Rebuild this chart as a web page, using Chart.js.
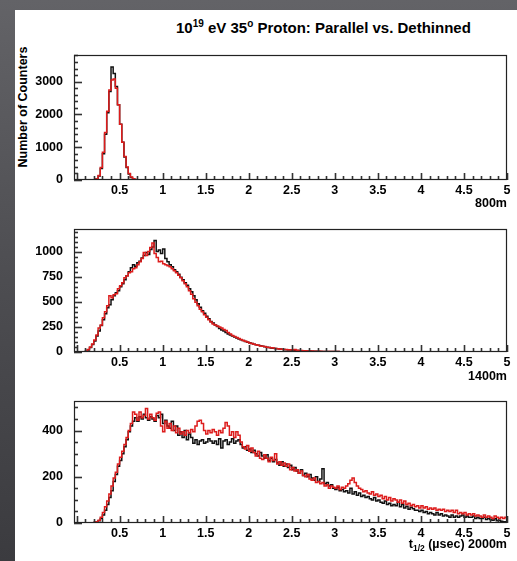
<!DOCTYPE html>
<html>
<head>
<meta charset="utf-8">
<script src="https://cdn.jsdelivr.net/npm/chart.js@4.4.1/dist/chart.umd.min.js"></script>
<style>
  html, body { margin: 0; padding: 0; }
  body {
    width: 517px; height: 561px; overflow: hidden; position: relative;
    background: linear-gradient(180deg, #636367 0%, #4d4d51 50%, #3b3b3f 100%);
    font-family: 'Liberation Sans', Arial, sans-serif; font-weight: bold; color: #000;
  }
  #sheet { position: absolute; left: 15px; top: 10px; right: 0; bottom: 0; background: #fff; }
  canvas { position: absolute; left: 0; }
  .txt { position: absolute; white-space: nowrap; }
  .title { left: 176px; top: 19px; font-size: 15px; line-height: 18px; }
  .title .sup { font-size: 10px; position: relative; top: -6px; }
  .ytitle { left: -47px; top: 100px; width: 140px; height: 14px; font-size: 12.5px; line-height: 14px;
            text-align: center; transform: rotate(-90deg); }
  .lbl { right: 10px; font-size: 12.5px; line-height: 14px; }
  .lbl .sub { font-size: 8.5px; position: relative; top: 3px; }
</style>
</head>
<body>
<div id="sheet"></div>
<div class="txt title">10<span class="sup">19</span> eV 35<span class="sup">o</span> Proton: Parallel vs. Dethinned</div>
<div class="txt ytitle">Number of Counters</div>
<canvas id="c800" width="517" height="174" style="top:36px"></canvas>
<canvas id="c1400" width="517" height="172" style="top:210px"></canvas>
<canvas id="c2000" width="517" height="171" style="top:382px"></canvas>
<div class="txt lbl" style="top:196px">800m</div>
<div class="txt lbl" style="top:369px">1400m</div>
<div class="txt lbl" style="top:537px">t<span class="sub">1/2</span> (&micro;sec) 2000m</div>

<script>
// histogram binning (all panels)
const binWidth = 0.025;
const xMin = -0.03;
const xMax = 5;
const xLabels = [0.5, 1, 1.5, 2, 2.5, 3, 3.5, 4, 4.5, 5];
const xMinorStep = 0.1;

// 800m panel
const p1Start = 0.2;
const p1Black = [10, 30, 120, 350, 800, 1400, 2050, 2700, 3450, 3250,
                 2850, 2300, 1700, 1150, 700, 380, 180, 80, 30, 10];
const p1Red = [10, 40, 140, 380, 850, 1450, 2100, 2750, 3050, 3080,
               2800, 2300, 1700, 1150, 720, 400, 200, 90, 40, 15, 5];
const p1YLabels = [0, 1000, 2000, 3000];

// 1400m panel
const p2Start = 0.1;
const p2Black = [
  5, 20, 45, 75, 110, 160, 210, 265, 320, 380,
  440, 470, 520, 560, 590, 610, 650, 680, 720, 760,
  800, 840, 870, 855, 890, 905, 935, 960, 990, 970,
  1020, 1045, 1110, 1000, 1015, 980, 1025, 930, 900, 870,
  850, 820, 800, 775, 745, 720, 690, 665, 630, 600,
  560, 520, 480, 445, 410, 385, 355, 330, 305, 290,
  270, 255, 235, 220, 210, 195, 180, 170, 160, 150,
  140, 130, 122, 115, 105, 98, 92, 85, 78, 72,
  68, 62, 57, 52, 48, 44, 41, 38, 35, 32,
  30, 27, 25, 23, 21, 19, 18, 16, 15, 14,
  13, 12, 11, 10, 9, 8, 8, 7, 7, 6,
  6, 5, 5, 5, 4, 4, 4, 4, 3, 3,
  3, 3, 3, 2, 3, 2, 2, 2, 2, 2,
  2, 1, 2, 1, 1, 1, 1, 1, 1, 1];
const p2Red = [
  5, 25, 50, 80, 120, 170, 240, 270, 340, 400,
  460, 560, 540, 570, 580, 630, 660, 690, 740, 760,
  790, 800, 830, 840, 870, 900, 930, 990, 960, 1000,
  1040, 1085, 980, 940, 900, 905, 880, 870, 860, 850,
  830, 810, 790, 765, 740, 710, 680, 650, 610, 575,
  530, 495, 460, 425, 400, 370, 345, 320, 300, 280,
  270, 260, 250, 240, 225, 215, 195, 180, 165, 155,
  145, 135, 125, 115, 108, 100, 90, 85, 78, 72,
  66, 60, 58, 54, 48, 46, 42, 40, 36, 33,
  31, 28, 26, 24, 22, 22, 20, 24, 18, 15,
  14, 13, 12, 11, 10, 9, 8, 8, 7, 7,
  6, 6, 5, 5, 5, 4, 4, 4, 3, 3,
  3, 3, 2, 3, 2, 2, 2, 2, 2, 2,
  2, 1, 1, 2, 1, 1, 1, 1, 1, 1];
const p2YLabels = [0, 250, 500, 750, 1000];

// 2000m panel
const p3Start = 0.2;
const p3Black = [
  2, 5, 10, 20, 35, 55, 80, 110, 140, 180,
  210, 245, 270, 300, 330, 360, 395, 420, 440, 455,
  440, 460, 450, 470, 455, 445, 460, 450, 440, 465,
  455, 470, 430, 445, 420, 410, 440, 400, 420, 380,
  395, 370, 400, 360, 385, 370, 345, 360, 340, 355,
  360, 345, 350, 365, 355, 345, 355, 340, 365, 325,
  355, 360, 340, 350, 365, 345, 355, 360, 340, 325,
  330, 315, 320, 305, 315, 300, 290, 305, 290, 280,
  295, 270, 280, 265, 275, 260, 250, 265, 245, 255,
  240, 250, 230, 240, 225, 215, 230, 205, 215, 200,
  210, 195, 185, 200, 180, 190, 235, 170, 175, 160,
  165, 150, 145, 155, 140, 145, 135, 140, 130, 150,
  125, 135, 120, 130, 115, 120, 110, 115, 105, 100,
  110, 95, 100, 90, 85, 95, 80, 85, 75, 80,
  75, 90, 70, 80, 65, 72, 60, 68, 62, 55,
  55, 50, 55, 45, 50, 40, 45, 40, 35, 45,
  35, 40, 30, 35, 30, 25, 35, 25, 30, 25,
  30, 35, 25, 30, 25, 25, 30, 20, 25, 20,
  20, 25, 15, 20, 15, 12, 18, 10, 12, 8,
  5, 5];
const p3Red = [
  2, 5, 12, 25, 45, 70, 95, 125, 160, 195,
  220, 255, 285, 310, 340, 370, 400, 430, 480, 470,
  445, 480, 455, 465, 495, 450, 470, 455, 445, 475,
  480, 420, 395, 440, 410, 430, 400, 420, 390, 410,
  385, 395, 380, 400, 390, 405, 395, 420, 440, 445,
  430, 400, 385, 400, 390, 405, 395, 380, 400, 390,
  410, 435, 420, 380, 395, 370, 395, 380, 350, 330,
  320, 335, 310, 325, 305, 290, 310, 280, 275, 295,
  280, 265, 285, 270, 300, 255, 265, 250, 260, 245,
  255, 230, 240, 225, 230, 215, 225, 205, 200, 210,
  190, 185, 195, 175, 180, 170, 175, 160, 165, 150,
  160, 155, 150, 160, 145, 155, 150, 160, 170, 185,
  195, 175, 160, 150, 145, 135, 140, 130, 125, 135,
  120, 125, 115, 120, 105, 115, 100, 110, 95, 105,
  100, 90, 100, 85, 95, 80, 85, 75, 80, 70,
  75, 65, 75, 65, 70, 60, 65, 60, 65, 55,
  60, 55, 60, 50, 55, 50, 55, 45, 55, 40,
  45, 40, 45, 35, 40, 35, 40, 30, 35, 30,
  25, 35, 25, 30, 25, 20, 30, 25, 20, 25,
  20, 25];
const p3YLabels = [0, 200, 400];

const fontSpec = { family: "'Liberation Sans', Arial, sans-serif", weight: 'bold', size: 12.5 };

// turn bin contents into step points (left bin edges), empty bins are zero
function histPoints(start, values) {
  const pts = [{ x: 0, y: 0 }];
  values.forEach((v, i) => pts.push({ x: start + i * binWidth, y: v }));
  const end = start + values.length * binWidth;
  if (end < xMax - 1e-6) {
    pts.push({ x: end, y: 0 });
    pts.push({ x: xMax, y: 0 });
  } else {
    pts.push({ x: xMax, y: values[values.length - 1] });
  }
  return pts;
}

// ROOT style frame, ticks pointing inwards (drawn on top of everything)
function rootFrame(yLabels, yMinor) {
  return {
    id: 'rootFrame',
    afterDraw(chart) {
      const { ctx, chartArea: a, scales: { x, y } } = chart;
      const bottom = Math.round(a.bottom);
      const left = Math.round(a.left);
      ctx.save();
      ctx.fillStyle = '#333';
      const nx = Math.round(xMax / xMinorStep);
      for (let i = 0; i <= nx; i++) {
        const px = Math.round(x.getPixelForValue(i * xMinorStep));
        const len = i % 5 === 0 ? 7 : 4;
        ctx.fillRect(px - 0.3, bottom - len, 1.6, len);
      }
      for (let k = 0; k * yMinor <= y.max; k++) {
        const v = k * yMinor;
        const py = Math.round(y.getPixelForValue(v));
        const len = yLabels.includes(v) ? 8 : 4;
        ctx.fillRect(left, py - 0.3, len, 1.6);
      }
      ctx.strokeStyle = '#222';
      ctx.lineWidth = 1.2;
      ctx.strokeRect(left + 0.5, Math.round(a.top) + 0.5,
                     Math.round(a.right) - left - 1, bottom - Math.round(a.top) - 1);
      ctx.restore();
    }
  };
}

function makePanel(id, start, black, red, yMax, yLabels, yMinor, topPad) {
  new Chart(document.getElementById(id), {
    type: 'line',
    data: {
      datasets: [
        { label: 'Dethinned', data: histPoints(start, red), borderColor: '#dd1c1c', order: 0 },
        { label: 'Parallel', data: histPoints(start, black), borderColor: '#111111', order: 1 }
      ]
    },
    options: {
      responsive: false,
      animation: false,
      devicePixelRatio: 1,
      layout: { padding: { top: topPad, right: 10, left: 0, bottom: 0 } },
      datasets: { line: { stepped: true, borderWidth: 1.5, pointRadius: 0, fill: false, tension: 0 } },
      plugins: {
        legend: { display: false },
        tooltip: { enabled: false }
      },
      scales: {
        x: {
          type: 'linear', min: xMin, max: xMax,
          grid: { display: false, drawTicks: false },
          border: { display: false },
          afterBuildTicks: s => { s.ticks = xLabels.map(v => ({ value: v })); },
          afterFit: s => { s.height = 30; },
          ticks: { autoSkip: false, maxRotation: 0, padding: 3, color: '#000', font: fontSpec,
                   callback: v => String(v) }
        },
        y: {
          type: 'linear', min: 0, max: yMax,
          grid: { display: false, drawTicks: false },
          border: { display: false },
          afterBuildTicks: s => { s.ticks = yLabels.map(v => ({ value: v })); },
          afterFit: s => { s.width = 74; },
          ticks: { padding: 11, color: '#000', font: fontSpec, callback: v => String(v) }
        }
      }
    },
    plugins: [rootFrame(yLabels, yMinor)]
  });
}

makePanel('c800', p1Start, p1Black, p1Red, 3830, p1YLabels, 200, 10);
makePanel('c1400', p2Start, p2Black, p2Red, 1230, p2YLabels, 50, 7);
makePanel('c2000', p3Start, p3Black, p3Red, 530, p3YLabels, 50, 7);
</script>
</body>
</html>
